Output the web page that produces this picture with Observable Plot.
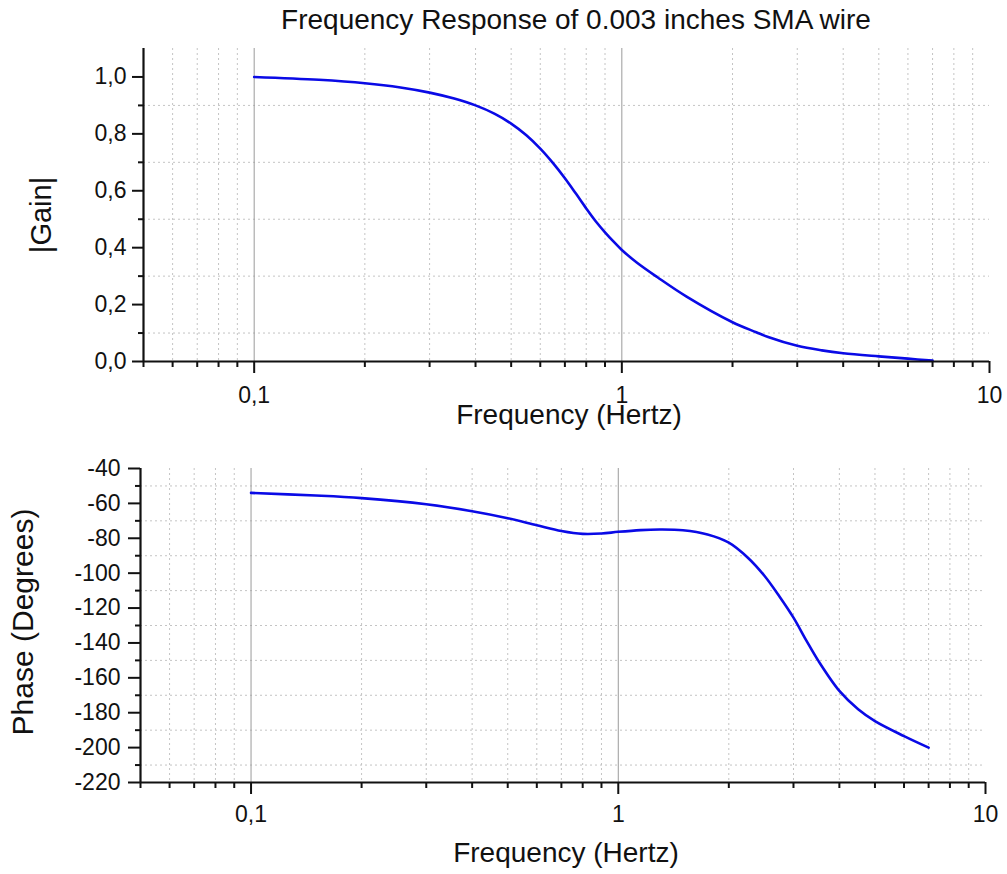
<!DOCTYPE html>
<html><head><meta charset="utf-8">
<script src="https://cdn.jsdelivr.net/npm/d3@7"></script>
<script src="https://cdn.jsdelivr.net/npm/@observablehq/plot@0.6"></script>
<style>
body{margin:0;background:#fff;font-family:"Liberation Sans",Arial,sans-serif;}
#wrap{position:relative;width:1007px;height:874px;overflow:hidden;}
#title{position:absolute;left:576px;top:6px;transform:translateX(-50%);font-size:28px;line-height:28px;white-space:nowrap;color:#111;}
#c1{position:absolute;left:0;top:40px;}
#c2{position:absolute;left:0;top:436px;}
</style></head>
<body><div id="wrap"><div id="title">Frequency Response of 0.003 inches SMA wire</div><div id="c1"></div><div id="c2"></div></div>
<script>
// ---- data ----
const gainFreq   = [0.1, 0.15, 0.2, 0.25, 0.3, 0.35, 0.4, 0.45, 0.5, 0.55, 0.6, 0.65, 0.7, 0.75, 0.8, 0.85, 0.9, 0.95, 1.0, 1.1, 1.25, 1.5, 2, 2.32, 2.5, 3, 3.5, 4, 5, 6, 7];
const gainValues = [1.0, 0.99, 0.978, 0.963, 0.945, 0.924, 0.90, 0.871, 0.836, 0.795, 0.748, 0.697, 0.644, 0.59, 0.538, 0.492, 0.454, 0.421, 0.392, 0.347, 0.296, 0.228, 0.138, 0.103, 0.086, 0.055, 0.039, 0.029, 0.018, 0.01, 0.003];
const phaseFreq   = [0.1, 0.15, 0.2, 0.3, 0.4, 0.5, 0.6, 0.7, 0.8, 0.9, 1.0, 1.15, 1.3, 1.5, 1.75, 2, 2.25, 2.5, 2.75, 3, 3.25, 3.5, 4, 4.5, 5, 6, 7];
const phaseValues = [-54, -55.5, -57, -60.5, -64.5, -68.5, -72.5, -75.8, -77.5, -77.3, -76.3, -75.3, -75, -75.4, -77.8, -82.5, -91, -101.5, -113.5, -125.5, -138.5, -150, -167.5, -178, -184.8, -193.4, -200];

const xDomain = [0.05, 10];
const xMajorTicks = [0.1, 1, 10];
const xMajorLabels = ["0,1", "1", "10"];
const xMinorTicks = [0.05, 0.06, 0.07, 0.08, 0.09, 0.2, 0.3, 0.4, 0.5, 0.6, 0.7, 0.8, 0.9, 2, 3, 4, 5, 6, 7, 8, 9];
const xGridLines = [0.06, 0.07, 0.08, 0.09, 0.2, 0.3, 0.4, 0.5, 0.6, 0.7, 0.8, 0.9, 2, 3, 4, 5, 6, 7, 8, 9];
const xReferenceLines = [0.1, 1];

const gainDomain = [0, 1.1];
const gainMajorTicks = [0, 0.2, 0.4, 0.6, 0.8, 1.0];
const gainTickLabels = ["0,0", "0,2", "0,4", "0,6", "0,8", "1,0"];
const gainMinorTicks = [0.1, 0.3, 0.5, 0.7, 0.9];

const phaseDomain = [-220, -40];
const phaseMajorTicks = [-220, -200, -180, -160, -140, -120, -100, -80, -60, -40];
const phaseTickLabels = ["-220", "-200", "-180", "-160", "-140", "-120", "-100", "-80", "-60", "-40"];
const phaseMinorTicks = [-210, -190, -170, -150, -130, -110, -90, -70, -50];

const titleText = "Frequency Response of 0.003 inches SMA wire";
const xTitle = "Frequency (Hertz)";
const gainTitle = "|Gain|";
const phaseTitle = "Phase (Degrees)";

// ---- drawing ----
const FONT = "Liberation Sans, Arial, sans-serif";
const lineColor = "#0a0ae6";
const gridColor = "#c4c4c4";
const fmt = (ticks, labels) => d => labels[ticks.indexOf(d)];

function panel(opts) {
  const {freq, values, yDomain, yMajor, yLabels, yMinor, margins, height, yTick, xTick} = opts;
  const data = freq.map((f, i) => ({f, v: values[i]}));
  return Plot.plot({
    width: 1007,
    height,
    ...margins,
    style: {fontFamily: FONT, fontSize: "23px", background: "white", color: "#111", overflow: "visible"},
    x: {type: "log", domain: xDomain, label: null},
    y: {domain: yDomain, label: null},
    marks: [
      Plot.gridX(xGridLines, {stroke: gridColor, strokeOpacity: 1, strokeDasharray: "2,3"}),
      Plot.gridY(yMinor, {stroke: gridColor, strokeOpacity: 1, strokeDasharray: "2,3"}),
      Plot.ruleX(xReferenceLines, {stroke: "#9a9a9a", strokeWidth: 1}),
      Plot.line(data, {x: "f", y: "v", stroke: lineColor, strokeWidth: 2.6, curve: "catmull-rom"}),
      Plot.ruleY([yDomain[0]], {stroke: "#111", strokeWidth: 2.2}),
      Plot.ruleX([xDomain[0]], {stroke: "#111", strokeWidth: 2.2}),
      Plot.axisX(xMajorTicks, {anchor: "bottom", tickSize: 12, tickPadding: xTick, tickFormat: fmt(xMajorTicks, xMajorLabels), fontSize: 23, strokeWidth: 2, label: null}),
      Plot.axisX(xMinorTicks, {anchor: "bottom", tickSize: 6, fill: "none", strokeWidth: 2, label: null}),
      Plot.axisY(yMajor, {anchor: "left", tickSize: yTick[0], tickPadding: yTick[1], tickFormat: fmt(yMajor, yLabels), fontSize: 23, strokeWidth: 2, label: null}),
      Plot.axisY(yMinor, {anchor: "left", tickSize: 5, fill: "none", strokeWidth: 2, label: null})
    ]
  });
}

const chart1 = panel({
  freq: gainFreq, values: gainValues, yDomain: gainDomain, yMajor: gainMajorTicks, yLabels: gainTickLabels, yMinor: gainMinorTicks,
  margins: {marginTop: 8, marginBottom: 75, marginLeft: 143, marginRight: 18}, height: 396, yTick: [11, 6], xTick: 13
});
const chart2 = panel({
  freq: phaseFreq, values: phaseValues, yDomain: phaseDomain, yMajor: phaseMajorTicks, yLabels: phaseTickLabels, yMinor: phaseMinorTicks,
  margins: {marginTop: 32, marginBottom: 92, marginLeft: 140, marginRight: 22}, height: 438, yTick: [12, 8], xTick: 11
});
document.getElementById("c1").appendChild(chart1);
document.getElementById("c2").appendChild(chart2);
document.getElementById("title").textContent = titleText;

function addText(svg, x, y, rot, size, txt) {
  d3.select(svg).append("text")
    .attr("transform", `translate(${x},${y})` + (rot ? ` rotate(${rot})` : ""))
    .attr("text-anchor", "middle")
    .attr("fill", "#111")
    .style("font-family", FONT)
    .style("font-size", size + "px")
    .text(txt);
}
addText(chart1, 569, 384, 0, 28, xTitle);
addText(chart1, 51, 175, -90, 29, gainTitle);
addText(chart2, 566, 426, 0, 28, xTitle);
addText(chart2, 33, 186, -90, 30, phaseTitle);
</script>
</body></html>
